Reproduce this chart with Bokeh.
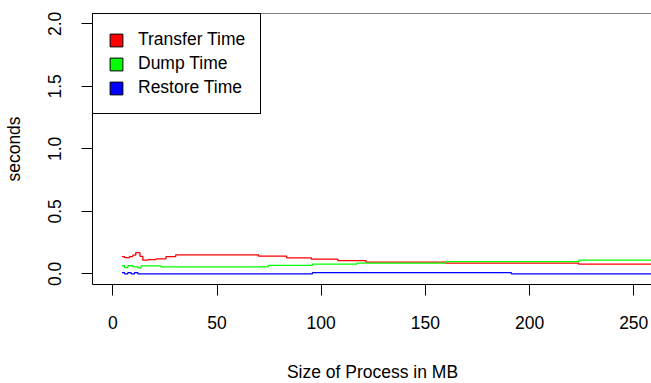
from bokeh.plotting import figure
from bokeh.models import Range1d, FixedTicker, Span, Legend, LegendItem, ColumnDataSource
from bokeh.embed import file_html
from bokeh.resources import INLINE

# ---- data ----
transfer_x = [4.4, 5.6, 8.0, 9.6, 11.0, 13.0, 14.4, 16.8, 20.7, 25.5, 30.2, 69.9, 83.4, 95.3, 108.0, 121.5, 159.6, 223.6, 259.0]
transfer_t = [0.138, 0.130, 0.138, 0.150, 0.170, 0.140, 0.109, 0.114, 0.120, 0.138, 0.152, 0.141, 0.128, 0.117, 0.106, 0.093, 0.086, 0.077, 0.077]

dump_x = [4.4, 5.6, 7.2, 9.6, 12.0, 13.6, 23.1, 74.7, 95.8, 117.0, 159.6, 223.6, 259.0]
dump_t = [0.066, 0.050, 0.066, 0.056, 0.048, 0.063, 0.056, 0.067, 0.077, 0.085, 0.098, 0.109, 0.109]

restore_x = [4.4, 5.6, 7.2, 8.8, 10.4, 12.0, 95.8, 191.3, 259.0]
restore_t = [0.009, 0.0, 0.009, 0.0, 0.009, 0.0, 0.009, 0.0, 0.0]

series_names = ["Transfer Time", "Dump Time", "Restore Time"]
series_colors = ["#FF0000", "#00FF00", "#0000FF"]

x_ticks = [0, 50, 100, 150, 200, 250]
y_ticks = [0.0, 0.5, 1.0, 1.5, 2.0]
y_tick_labels = ["0.0", "0.5", "1.0", "1.5", "2.0"]

FONT = "Liberation Sans"
FS = "17.5px"

p = figure(frame_width=560, frame_height=271,
           x_range=Range1d(-9.76, 259.0), y_range=Range1d(-0.0856, 2.0824),
           output_backend="svg", toolbar_location=None,
           min_border_left=91, min_border_top=13, min_border_right=0, min_border_bottom=98)
p.outline_line_color = None
p.xgrid.visible = False
p.ygrid.visible = False
p.background_fill_color = "white"
p.border_fill_color = "white"

for xs, ys, c in [(transfer_x, transfer_t, series_colors[0]),
                  (dump_x, dump_t, series_colors[1]),
                  (restore_x, restore_t, series_colors[2])]:
    p.step(xs, ys, mode="after", line_color=c, line_width=1.3)

# top border of the box
p.add_layout(Span(location=2.0824, dimension="width", line_color="black", line_width=1))

# axes styling (R base-graphics look)
for ax in (p.xaxis[0], p.yaxis[0]):
    ax.axis_line_color = "black"
    ax.major_tick_line_color = "black"
    ax.major_tick_in = 0
    ax.major_tick_out = 11
    ax.minor_tick_line_color = None
    ax.major_label_text_font = FONT
    ax.major_label_text_font_size = FS
    ax.major_label_text_color = "black"
    ax.axis_label_text_font = FONT
    ax.axis_label_text_font_size = FS
    ax.axis_label_text_font_style = "normal"
    ax.axis_label_text_color = "black"

p.xaxis.ticker = FixedTicker(ticks=x_ticks)
p.xaxis.axis_label = "Size of Process in MB"
p.xaxis.major_label_standoff = 20
p.xaxis.axis_label_standoff = 30

p.yaxis.ticker = FixedTicker(ticks=y_ticks)
p.yaxis.major_label_overrides = {t: l for t, l in zip(y_ticks, y_tick_labels)}
p.yaxis.major_label_orientation = "vertical"
p.yaxis.axis_label = "seconds"
p.yaxis.major_label_standoff = 20
p.yaxis.axis_label_standoff = 22

# legend with filled squares (renderers hold a single NaN row so the legend glyph is drawn)
nan = float("nan")
items = []
for name, c in zip(series_names, series_colors):
    src = ColumnDataSource(dict(left=[nan], right=[nan], top=[nan], bottom=[nan]))
    r = p.quad(left="left", right="right", top="top", bottom="bottom", source=src,
               fill_color=c, line_color="black", line_width=1)
    items.append(LegendItem(label=name, renderers=[r]))

legend = Legend(items=items, location="top_left", margin=0, padding=15, spacing=3,
                label_height=20, glyph_height=16, glyph_width=16, label_standoff=14,
                border_line_color="black", border_line_width=1, border_line_alpha=1,
                background_fill_color="white", background_fill_alpha=1,
                label_text_font=FONT, label_text_font_size=FS, label_text_color="black")
p.add_layout(legend)

open("out.html", "w").write(file_html(p, INLINE))
